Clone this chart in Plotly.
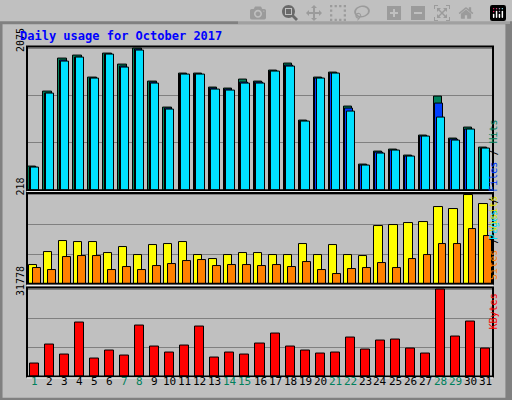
import plotly.graph_objects as go

days = list(range(1, 32))
weekend = [1, 7, 8, 14, 15, 21, 22, 28, 29]
hits = [348,1434,1908,1963,1643,1991,1824,2061,1573,1198,1699,1699,1490,1476,1615,1573,1741,1838,1017,1643,1713,1211,376,557,585,501,794,1365,752,905,627]
files = [335,1410,1885,1935,1630,1975,1800,2040,1560,1180,1685,1685,1475,1460,1560,1560,1725,1815,1000,1630,1700,1190,360,545,578,490,785,1267,730,885,612]
pages = [330,1400,1875,1925,1625,1965,1790,2030,1555,1175,1680,1680,1470,1450,1555,1555,1720,1805,995,1625,1695,1150,355,540,575,485,780,1058,725,880,605]
visits = [45,77,103,101,99,73,87,70,94,96,101,70,59,70,73,73,68,70,96,68,92,70,66,138,141,145,148,183,180,213,190]
sites = [38,33,63,66,66,33,40,33,42,47,54,56,42,45,45,42,45,40,52,33,23,35,38,49,38,59,68,96,96,131,115]
kbytes = [4590,11650,8120,19770,6360,9530,7770,18710,10950,8830,11300,18360,6710,8830,8120,12000,15540,10950,9530,8470,8830,14120,9890,13060,13420,10240,8470,31778,14480,20130,10240]

BG = "#c0c0c0"
fig = go.Figure()

def bars(y, color, off, w, ax):
    fig.add_trace(go.Bar(x=days, y=y, marker=dict(color=color, line=dict(color="black", width=1)),
                         offset=off, width=w, xaxis="x" + ax, yaxis="y" + ax, showlegend=False))

bars(hits, "#00805c", -0.42, 0.55, "")
bars(files, "#0040ff", -0.33, 0.5, "")
bars(pages, "#00e0ff", -0.24, 0.55, "")
bars(visits, "#ffff00", -0.4, 0.55, "2")
bars(sites, "#ff8000", -0.12, 0.52, "2")
bars(kbytes, "#ff0000", -0.3, 0.6, "3")

def yd(top, bot):
    return [(400 - bot) / 400, (400 - top) / 400]

xd = [27 / 512, 493 / 512]
panels = [("", 26, 178, max(hits), "2075"), ("2", 181, 277, max(visits), "218"), ("3", 281, 375, max(kbytes), "31778")]
lay = {}
for ax, top, bot, mx, lab in panels:
    rng = mx * (bot - top) / (bot - top - 2)
    lay["xaxis" + ax] = dict(domain=xd, range=[0.5, 31.5], showticklabels=False, showgrid=False,
                             zeroline=False, anchor="y" + ax, fixedrange=True)
    lay["yaxis" + ax] = dict(domain=yd(top, bot), range=[0, rng], tickvals=[mx / 3, 2 * mx / 3, mx],
                             ticktext=["", "", lab], tickangle=-90, gridcolor="#808080", gridwidth=1,
                             zeroline=False, anchor="x" + ax, ticklabelposition="outside top",
                             tickfont=dict(family="DejaVu Sans Mono", size=10, color="black"))
fig.update_layout(**lay)

shapes = [dict(type="rect", xref="paper", yref="paper", x0=0.002, y0=0.002, x1=0.998, y1=0.998,
               line=dict(color="#808080", width=3))]
for ax, top, bot, mx, lab in panels:
    shapes.append(dict(type="rect", xref="paper", yref="paper", x0=xd[0], x1=xd[1],
                       y0=yd(top, bot)[0], y1=yd(top, bot)[1], line=dict(color="black", width=2)))
    shapes.append(dict(type="line", xref="paper", yref="paper", x0=xd[0], x1=xd[1],
                       y0=yd(top, bot)[0] - 0.004, y1=yd(top, bot)[0] - 0.004, line=dict(color="white", width=1)))
shapes.append(dict(type="line", xref="paper", yref="paper", x0=0.992, x1=0.992, y0=0, y1=1,
                   line=dict(color="#808080", width=5)))

ann = [dict(text="<b>Daily usage for October 2017</b>", x=18 / 512, y=1 - 15 / 400, xref="paper", yref="paper",
            xanchor="left", yanchor="middle", showarrow=False,
            font=dict(family="DejaVu Sans Mono", size=12, color="#0000ff"))]
for d in days:
    ann.append(dict(text=str(d), x=d, y=1 - 389 / 400, xref="x3", yref="paper", showarrow=False,
                    font=dict(family="DejaVu Sans Mono", size=11,
                              color="#00805c" if d in weekend else "black")))
rlabels = [("<span style='color:#00e0ff'>Pages</span> / <span style='color:#0040ff'>Files</span> / <span style='color:#00805c'>Hits</span>", 102),
           ("<span style='color:#ff8000'>Sites</span> / <span style='color:#e0e000'>Visits</span>", 229),
           ("<span style='color:#ff0000'>KBytes</span>", 328)]
for t, yc in rlabels:
    ann.append(dict(text=t, x=501 / 512, y=1 - yc / 400, xref="paper", yref="paper", textangle=-90,
                    showarrow=False, font=dict(family="DejaVu Sans Mono", size=10, color="black")))

fig.update_layout(width=512, height=400, margin=dict(l=0, r=0, t=0, b=0), paper_bgcolor=BG,
                  plot_bgcolor=BG, barmode="overlay", bargap=0, shapes=shapes, annotations=ann)
fig.write_html("out.html")
with open("out.html") as f:
    html = f.read()
html = html.replace("<head>", "<head><style>html,body{margin:0;padding:0;overflow:hidden}</style>", 1)
with open("out.html", "w") as f:
    f.write(html)
